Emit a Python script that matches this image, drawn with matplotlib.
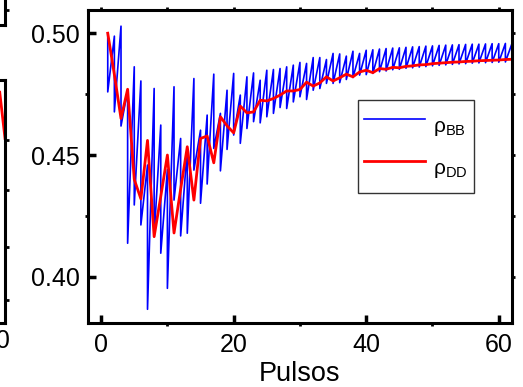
import numpy as np
import matplotlib.pyplot as plt

plt.rcParams['font.family'] = ['Liberation Sans', 'DejaVu Sans']
plt.rcParams['mathtext.default'] = 'regular'

pulsos = np.arange(1, 63)

# rho_BB: value just before / just after each pulse
rho_bb_top = [0.500, 0.4988, 0.5029, 0.4766, 0.4862, 0.4804, 0.4459, 0.4773, 0.4623, 0.4440,
              0.4780, 0.4568, 0.4527, 0.4814, 0.4602, 0.4664, 0.4832, 0.4671, 0.4766, 0.4835,
              0.4746, 0.4821, 0.4837, 0.4807, 0.4848, 0.4851, 0.4855, 0.4862, 0.4869, 0.4880,
              0.4876, 0.4900, 0.4900, 0.4892, 0.4917, 0.4915, 0.4906, 0.4926, 0.4917,
              0.4930, 0.4932, 0.4935, 0.4937, 0.4939, 0.4940, 0.4942, 0.4944, 0.4945, 0.4947,
              0.4948, 0.4950, 0.4951, 0.4952, 0.4953, 0.4954, 0.4955, 0.4955, 0.4956, 0.4957,
              0.4957, 0.4958, 0.4958]
rho_bb_bottom = [0.4759, 0.4677, 0.4619, 0.4138, 0.4295, 0.4213, 0.3867, 0.4165, 0.4097, 0.3953,
                 0.4315, 0.4168, 0.4179, 0.4438, 0.4302, 0.4381, 0.4527, 0.4435, 0.4523, 0.4582,
                 0.4548, 0.4609, 0.4637, 0.4632, 0.4657, 0.4671, 0.4695, 0.4691, 0.4718, 0.4739,
                 0.4728, 0.4766, 0.4773, 0.4794, 0.4794, 0.4797, 0.4810, 0.4818, 0.4828,
                 0.4830, 0.4835, 0.4842, 0.4845, 0.4850, 0.4852, 0.4856, 0.4858, 0.4861, 0.4863,
                 0.4866, 0.4868, 0.4870, 0.4872, 0.4874, 0.4875, 0.4877, 0.4878, 0.4879, 0.4880,
                 0.4881, 0.4882, 0.4883]
rho_dd = [0.500, 0.483, 0.465, 0.477, 0.440, 0.432, 0.456, 0.4165, 0.433, 0.450,
          0.418, 0.436, 0.4534, 0.4315, 0.4568, 0.4578, 0.4468, 0.4657, 0.462, 0.4591,
          0.4701, 0.4673, 0.4677, 0.4725, 0.4722, 0.4732, 0.4746, 0.4763, 0.4763, 0.4769,
          0.4799, 0.4783, 0.4796, 0.4821, 0.4804, 0.4817, 0.4832, 0.4821, 0.4841, 0.4848,
          0.4838, 0.4855, 0.4852, 0.4860, 0.4858, 0.4864, 0.4866, 0.4870, 0.4871, 0.4875,
          0.4877, 0.4879, 0.4881, 0.4882, 0.4884, 0.4885, 0.4887, 0.4888, 0.4889, 0.4890,
          0.4892, 0.4893]

# bit of the neighbouring panel that shows at the left edge
frag_x = [60.4, 61.2]
frag_y = [0.95, 0.76]

x_bb = np.repeat(pulsos, 2)
y_bb = np.column_stack([rho_bb_top, rho_bb_bottom]).ravel()

fig = plt.figure(figsize=(5.23, 3.87), dpi=100)

# left neighbour panels (mostly off the figure)
axl = fig.add_axes([-0.29, 0.165, 0.2996, 0.628])
axl.plot(frag_x, frag_y, color='red', lw=2)
axl.set_xticks([60])
axl.set_xticklabels(['60'], fontsize=18)
axl.yaxis.tick_right()
axl.set_yticks([0.095, 0.313, 0.547, 0.753])
axl.set_yticklabels([])
axl.set_xlim(37.5, 61.2)
axl.set_ylim(0, 1)
axl.tick_params(axis='y', direction='out', length=3, width=2)
axl.tick_params(axis='x', direction='in', length=6, width=2.5, pad=4)
for s in axl.spines.values():
    s.set_linewidth(2.2)

axu = fig.add_axes([-0.29, 0.935, 0.2996, 0.3])
axu.set_xticks([])
axu.yaxis.tick_right()
axu.set_yticks([0.13])
axu.set_yticklabels([])
axu.set_ylim(0, 1)
axu.tick_params(axis='y', direction='out', length=3, width=2)
for s in axu.spines.values():
    s.set_linewidth(2.2)

ax = fig.add_axes([0.168, 0.165, 0.811, 0.809])
ax.plot(x_bb, y_bb, color='#0000ff', lw=1.2, label=r'ρ$_{BB}$')
ax.plot(pulsos, rho_dd, color='#ff0000', lw=2.0, label=r'ρ$_{DD}$')

ax.set_xticks([0, 20, 40, 60])
ax.set_xticks([10, 30, 50], minor=True)
ax.set_yticks([0.40, 0.45, 0.50])
ax.set_yticks([0.425, 0.475], minor=True)
ax.set_yticklabels(['0.40', '0.45', '0.50'])
ax.tick_params(which='major', direction='in', length=6, width=2.5, labelsize=18)
ax.tick_params(axis='x', which='major', pad=7)
ax.tick_params(axis='y', which='major', pad=5.5)
ax.tick_params(which='minor', direction='out', length=2, width=2)
ax.set_xlabel('Pulsos', fontsize=19.5, labelpad=3)

# small marks on top and right sides
axt = ax.secondary_xaxis('top')
axt.set_xticks([0, 10, 20, 30, 40, 50, 60])
axt.set_xticklabels([])
axt.tick_params(direction='out', length=2, width=2)
axr = ax.secondary_yaxis('right')
axr.set_yticks([0.40, 0.425, 0.45, 0.475, 0.50])
axr.set_yticklabels([])
axr.tick_params(direction='out', length=2, width=2)

ax.set_xlim(-2, 62)
ax.set_ylim(0.381, 0.5095)

for s in ax.spines.values():
    s.set_linewidth(2.2)

leg = ax.legend(loc='upper left', bbox_to_anchor=(0.636, 0.712), fontsize=15,
                handlelength=2.93, handleheight=2.46, fancybox=False, framealpha=1,
                borderpad=0.3, labelspacing=0.17, handletextpad=0.4, borderaxespad=0)
leg.get_frame().set_edgecolor('#333333')
leg.get_frame().set_linewidth(1.0)

fig.savefig('out.png', dpi=100)
